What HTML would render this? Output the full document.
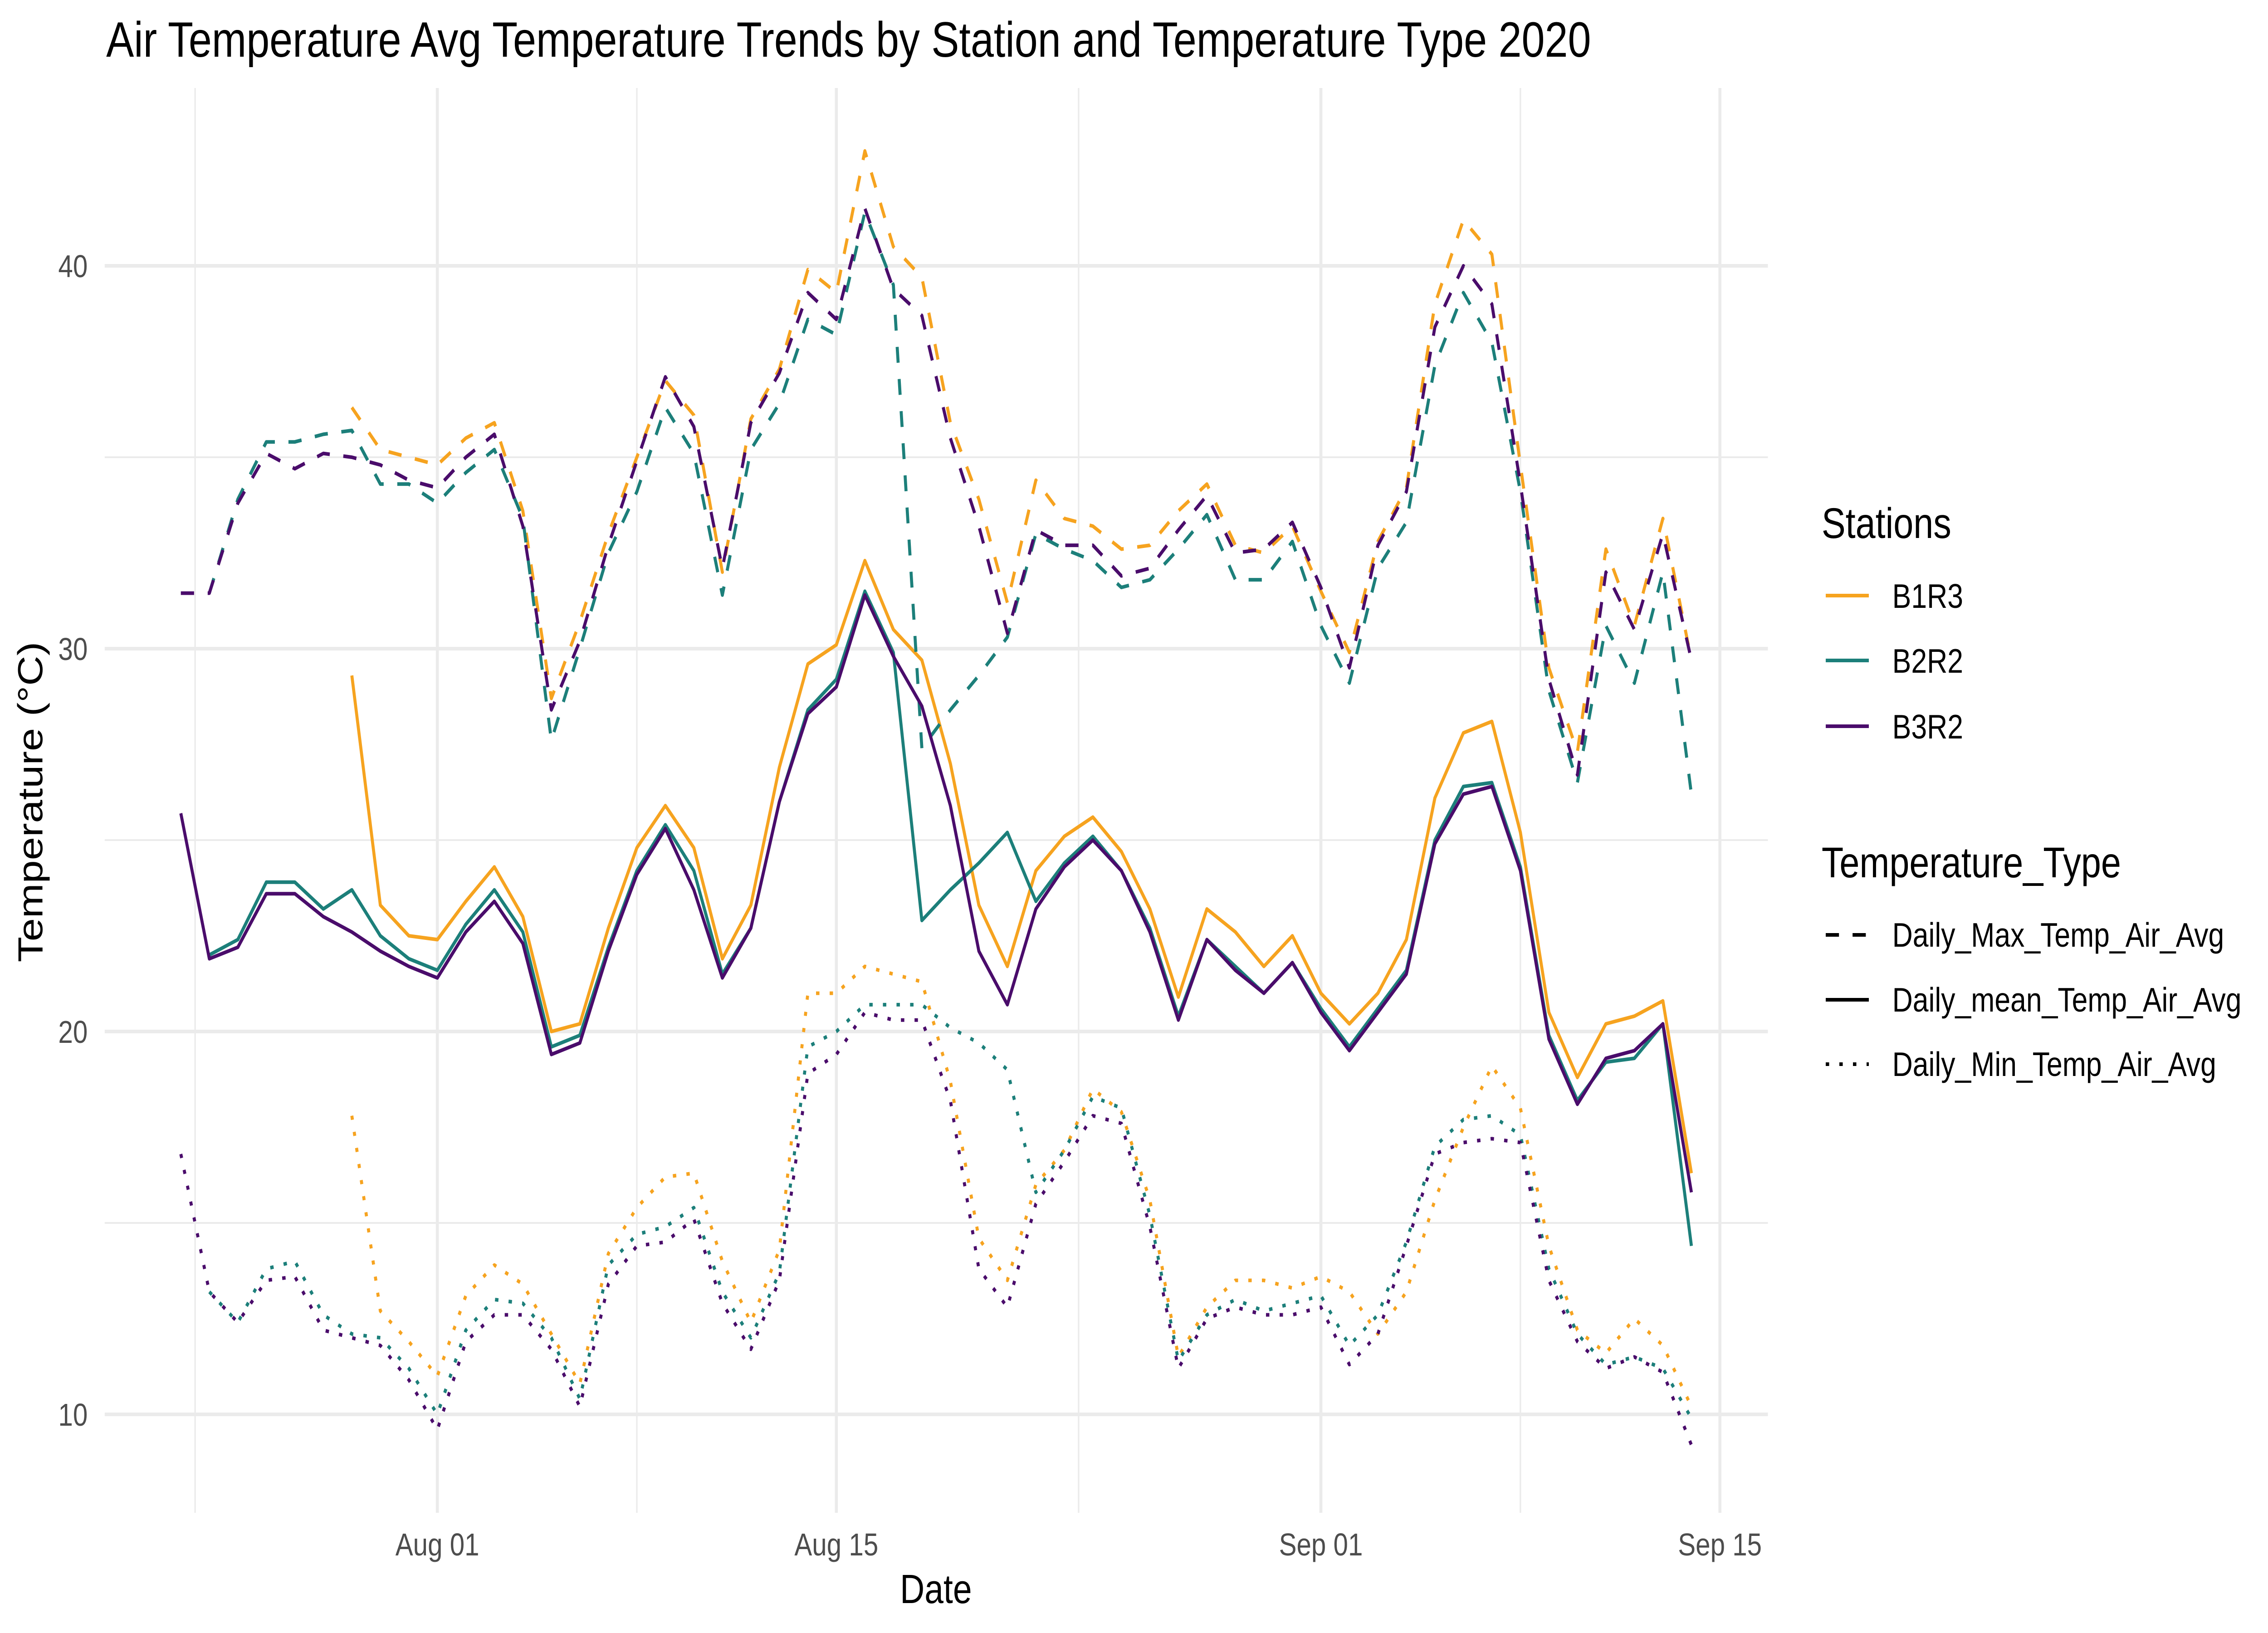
<!DOCTYPE html>
<html><head><meta charset="utf-8"><style>
html,body{margin:0;padding:0;background:#fff;overflow:hidden;width:100%;height:100%;}
svg{display:block;width:100vw;height:100vh;font-family:"Liberation Sans",Arial,sans-serif;}
</style></head><body>
<svg id="chart" viewBox="0 0 6000 3600" preserveAspectRatio="none" xmlns="http://www.w3.org/2000/svg">
<rect width="6000" height="3600" fill="#fff"/>
<text x="281" y="125" font-size="110" fill="#000" textLength="3928" lengthAdjust="spacingAndGlyphs">Air Temperature Avg Temperature Trends by Station and Temperature Type 2020</text>
<g id="grid"></g>
<g id="series"></g>
<g id="axes"></g>
<text x="2476" y="3534" font-size="90" text-anchor="middle" fill="#000">Date</text>
<text transform="translate(112,1768) rotate(-90)" font-size="92" text-anchor="middle" fill="#000">Temperature (°C)</text>
<g id="legend"></g>
</svg>
<script>
const startDay = -9; // Jul 23 relative to Aug 01
const dayOffsets = [];
for (let i = 0; i < 54; i++) dayOffsets.push(startDay + i);
const stations = ["B1R3","B2R2","B3R2"];
const stationColors = ["#f6a31f","#1c7f7a","#4a0c6b"];
const tempTypes = ["Daily_Max_Temp_Air_Avg","Daily_mean_Temp_Air_Avg","Daily_Min_Temp_Air_Avg"];
const yTicks = [10,20,30,40];
const yMinorTicks = [15,25,35];
const xTickDays = [0,14,31,45];
const xTickLabels = ["Aug 01","Aug 15","Sep 01","Sep 15"];
const xMinorDays = [-8.5,7,22.5,38];
const N = null;
const maxB1R3 = [N,N,N,N,N,N,36.3,35.2,35.0,34.8,35.5,35.9,33.6,28.7,30.7,33.0,35.0,37.0,
 36.1,32.0,36.0,37.3,39.9,39.3,43.0,40.5,39.7,35.9,33.9,31.2,34.4,33.4,33.2,32.6,32.7,33.6,34.3,
 32.7,32.5,33.2,31.5,29.9,32.8,34.2,39.0,41.2,40.3,34.8,29.5,27.3,32.6,30.6,33.4,29.7];
const maxB2R2 = [N,31.45,33.9,35.4,35.4,35.6,35.7,34.3,34.3,33.8,34.6,35.2,33.4,27.6,30.0,32.5,34.1,36.3,
 35.1,31.4,35.2,36.4,38.6,38.2,41.4,39.5,27.4,28.4,29.3,30.3,33.0,32.6,32.3,31.6,31.8,32.6,33.5,
 31.8,31.8,32.8,30.6,29.1,32.1,33.3,37.4,39.3,38.0,34.1,28.9,26.5,30.6,29.1,32.0,26.2];
const maxB3R2 = [31.45,31.45,33.8,35.1,34.7,35.1,35.0,34.8,34.4,34.2,35.0,35.6,33.2,28.4,30.2,32.7,34.9,37.1,
 35.8,32.1,35.9,37.2,39.3,38.6,41.5,39.4,38.7,35.5,33.2,30.4,33.1,32.7,32.7,31.9,32.1,33.1,34.0,
 32.5,32.6,33.3,31.6,29.5,32.7,34.1,38.4,40.0,39.0,34.3,29.2,26.7,32.0,30.5,33.0,29.7];
const meanB1R3 = [N,N,N,N,N,N,29.3,23.3,22.5,22.4,23.4,24.3,23.0,20.0,20.2,22.7,24.8,25.9,
 24.8,21.9,23.3,26.9,29.6,30.1,32.3,30.5,29.7,27.0,23.3,21.7,24.2,25.1,25.6,24.7,23.2,20.9,23.2,
 22.6,21.7,22.5,21.0,20.2,21.0,22.4,26.1,27.8,28.1,25.2,20.5,18.8,20.2,20.4,20.8,16.3];
const meanB2R2 = [N,22.0,22.4,23.9,23.9,23.2,23.7,22.5,21.9,21.6,22.8,23.7,22.6,19.6,19.9,22.2,24.2,25.4,
 24.2,21.5,22.7,26.0,28.4,29.2,31.5,29.9,22.9,23.7,24.4,25.2,23.4,24.4,25.1,24.2,22.7,20.4,22.4,
 21.7,21.0,21.8,20.6,19.6,20.6,21.6,25.0,26.4,26.5,24.3,19.9,18.2,19.2,19.3,20.2,14.4];
const meanB3R2 = [25.7,21.9,22.2,23.6,23.6,23.0,22.6,22.1,21.7,21.4,22.6,23.4,22.3,19.4,19.7,22.1,24.1,25.3,
 23.7,21.4,22.7,26.0,28.3,29.0,31.4,29.8,28.5,25.9,22.1,20.7,23.2,24.3,25.0,24.2,22.6,20.3,22.4,
 21.6,21.0,21.8,20.5,19.5,20.5,21.5,24.9,26.2,26.4,24.2,19.8,18.1,19.3,19.5,20.2,15.8];
const minB1R3 = [N,N,N,N,N,N,17.8,12.7,11.9,11.0,13.1,13.9,13.4,12.1,10.8,14.2,15.4,16.2,
 16.3,14.0,12.4,14.3,21.0,21.0,21.7,21.5,21.3,18.7,14.6,13.5,16.0,16.9,18.5,17.9,15.6,11.5,12.8,
 13.5,13.5,13.3,13.6,13.2,12.1,13.2,15.6,17.5,19.1,18.0,14.4,12.2,11.6,12.5,11.8,10.2];
const minB2R2 = [N,13.2,12.4,13.8,14.0,12.6,12.1,12.0,11.2,10.0,12.2,13.0,12.9,12.0,10.4,13.9,14.7,14.9,
 15.4,13.2,12.0,13.7,19.6,20.0,20.7,20.7,20.7,20.1,19.7,19.0,15.8,16.9,18.3,18.0,15.2,11.4,12.6,
 13.0,12.7,12.9,13.1,11.8,12.6,14.5,17.0,17.7,17.8,17.3,13.8,12.1,11.3,11.5,11.2,9.9];
const minB3R2 = [16.8,13.2,12.4,13.5,13.6,12.2,12.0,11.8,10.9,9.6,11.9,12.6,12.6,11.7,10.2,13.4,14.4,14.5,
 15.1,12.9,11.7,13.5,18.9,19.4,20.5,20.3,20.3,18.2,13.8,12.8,15.5,16.6,17.8,17.6,14.9,11.2,12.5,
 12.8,12.6,12.6,12.8,11.3,12.1,14.4,16.8,17.1,17.2,17.1,13.5,11.9,11.2,11.5,11.1,9.2];

const NS = "http://www.w3.org/2000/svg";
const PL = 277, PR = 4677, PT = 194, PB = 3335;
function xScale(d){ return 1157 + 75.4 * d; }
function yScale(v){ return 3118 - (v - 10) * 84.4; }
function mk(tag, attrs, parent){
  const e = document.createElementNS(NS, tag);
  for (const k in attrs) e.setAttribute(k, attrs[k]);
  parent.appendChild(e);
  return e;
}
const grid = document.getElementById('grid');
yMinorTicks.forEach(v => {
  const l = mk('line', {x1:PL, x2:PR, y1:yScale(v), y2:yScale(v), stroke:'#ebebeb', 'stroke-width':4}, grid);
  
  
});
xMinorDays.forEach(d => {
  const l = mk('line', {x1:xScale(d), x2:xScale(d), y1:PT, y2:PB, stroke:'#ebebeb', 'stroke-width':4}, grid);
  
  
});
yTicks.forEach(v => {
  const l = mk('line', {x1:PL, x2:PR, y1:yScale(v), y2:yScale(v), stroke:'#ebebeb', 'stroke-width':8}, grid);
  
  
});
xTickDays.forEach(d => {
  const l = mk('line', {x1:xScale(d), x2:xScale(d), y1:PT, y2:PB, stroke:'#ebebeb', 'stroke-width':8}, grid);
  
  
});
const axes = document.getElementById('axes');
yTicks.forEach(v => {
  const t = mk('text', {x:232, y:yScale(v)+25, 'font-size':70, fill:'#4d4d4d', 'text-anchor':'end'}, axes);
  t.textContent = String(v);
  
  
});
xTickDays.forEach((d, i) => {
  const t = mk('text', {x:xScale(d), y:3429, 'font-size':70, fill:'#4d4d4d', 'text-anchor':'middle'}, axes);
  t.textContent = xTickLabels[i];
  
  
});
const dashes = ["35,36", null, "9,27"];
const seriesData = [
  [maxB1R3, meanB1R3, minB1R3],
  [maxB2R2, meanB2R2, minB2R2],
  [maxB3R2, meanB3R2, minB3R2]
];
const sg = document.getElementById('series');
seriesData.forEach((types, si) => {
  types.forEach((vals, ti) => {
    let d = "", pen = false;
    vals.forEach((v, i) => {
      if (v === null) { pen = false; return; }
      d += (pen ? "L" : "M") + xScale(dayOffsets[i]).toFixed(1) + " " + yScale(v).toFixed(1);
      pen = true;
    });
    const attrs = {d:d, fill:'none', stroke:stationColors[si], 'stroke-width':8, 'stroke-linejoin':'round'};
    if (dashes[ti]) attrs['stroke-dasharray'] = dashes[ti];
    const p = mk('path', attrs, sg);
    
    
  });
});
const lg = document.getElementById('legend');
const t1 = mk('text', {x:4819, y:1186, 'font-size':95, fill:'#000'}, lg);
t1.textContent = "Stations";


const stY = [1313, 1456, 1601];
stations.forEach((s, i) => {
  const l = mk('line', {x1:4830, x2:4944, y1:stY[i], y2:stY[i], stroke:stationColors[i], 'stroke-width':8}, lg);
  
  
  const t = mk('text', {x:5006, y:stY[i]+27, 'font-size':75, fill:'#000'}, lg);
  t.textContent = s;
  
  
});
const t2 = mk('text', {x:4819, y:1934, 'font-size':95, fill:'#000'}, lg);
t2.textContent = "Temperature_Type";


const ttY = [2061, 2204, 2346];
tempTypes.forEach((s, i) => {
  const a = {x1:4830, x2:4944, y1:ttY[i], y2:ttY[i], stroke:'#000', 'stroke-width':8};
  if (dashes[i]) a['stroke-dasharray'] = dashes[i];
  const l = mk('line', a, lg);
  
  
  const t = mk('text', {x:5006, y:ttY[i]+26, 'font-size':75, fill:'#000'}, lg);
  t.textContent = s;
  
  
});
</script>
</body></html>
